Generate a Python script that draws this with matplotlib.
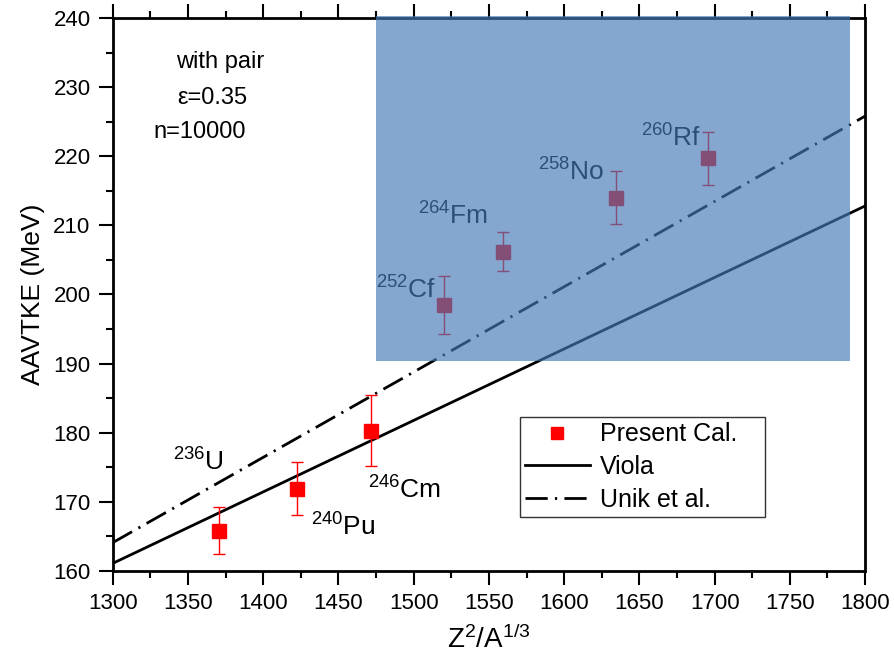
import numpy as np
import matplotlib.pyplot as plt
from matplotlib.patches import Rectangle
from matplotlib.lines import Line2D
from matplotlib.ticker import MultipleLocator

plt.rcParams['font.family'] = ['Liberation Sans', 'DejaVu Sans']
plt.rcParams['mathtext.fontset'] = 'custom'
plt.rcParams['mathtext.rm'] = 'Liberation Sans'
plt.rcParams['mathtext.it'] = 'Liberation Sans'

# data
nuclei = ['236', '240', '246', '252', '264', '258', '260']
elements = ['U', 'Pu', 'Cm', 'Cf', 'Fm', 'No', 'Rf']
z2a = [1370.5, 1422.5, 1471.5, 1520.3, 1559.4, 1634.4, 1695.4]
tke = [165.8, 171.9, 180.3, 198.5, 206.2, 214.0, 219.7]
tke_err = [3.4, 3.8, 5.1, 4.2, 2.8, 3.8, 3.8]

line_x = [1300, 1800]
viola_y = [161.1, 212.8]
unik_y = [164.1, 225.8]

# label anchor (left, centre) for each nucleus
label_x = [1339.9, 1431.6, 1469.5, 1474.9, 1502.8, 1582.6, 1651.1]
label_y = [175.8, 166.4, 171.7, 200.6, 211.4, 217.7, 222.6]

fig = plt.figure(figsize=(8.95, 6.67), dpi=100)
ax = fig.add_axes([0.126, 0.144, 0.8405, 0.829])

dashdot = (0, (8, 2.6, 0.8, 2.6))
ax.plot(line_x, viola_y, color='black', lw=2, zorder=2)
ax.plot(line_x, unik_y, color='black', lw=2, linestyle=dashdot, zorder=2)
ax.errorbar(z2a, tke, yerr=tke_err, fmt='s', color='red', ecolor='red',
            markersize=10, elinewidth=1, capsize=4, capthick=1, zorder=3)

for n, e, x, y in zip(nuclei, elements, label_x, label_y):
    ax.text(x, y, r'$^{%s}$%s' % (n, e), fontsize=19, ha='left', va='center')

ax.text(1342, 232.7, 'with pair', fontsize=17)
ax.text(1343, 227.6, 'ε=0.35', fontsize=17)
ax.text(1327, 222.6, 'n=10000', fontsize=17)

# highlighted region
ax.add_patch(Rectangle((1475, 190.4), 315, 49.9, facecolor='#4479B6',
                       alpha=0.66, edgecolor='none', zorder=10, clip_on=False))

ax.set_xlim(1300, 1800)
ax.set_ylim(160, 240)
ax.xaxis.set_major_locator(MultipleLocator(50))
ax.xaxis.set_minor_locator(MultipleLocator(25))
ax.yaxis.set_major_locator(MultipleLocator(10))
ax.yaxis.set_minor_locator(MultipleLocator(5))
ax.tick_params(which='both', direction='out', width=1.5, top=True, right=False,
               labelsize=16)
ax.tick_params(which='major', length=10, pad=6)
ax.tick_params(which='minor', length=5)
for s in ax.spines.values():
    s.set_linewidth(2)

ax.set_xlabel(r'Z$^2$/A$^{1/3}$', fontsize=20, labelpad=8)
ax.set_ylabel('AAVTKE (MeV)', fontsize=19, labelpad=6)

handles = [Line2D([], [], marker='s', color='red', linestyle='none', markersize=9),
           Line2D([], [], color='black', lw=2),
           Line2D([], [], color='black', lw=2, linestyle=dashdot)]
labels = ['Present Cal.', 'Viola', 'Unik et al.']
leg = ax.legend(handles, labels,
                loc='lower left', bbox_to_anchor=(0.541, 0.098, 0.326, 0.184),
                mode='expand', fontsize=18, frameon=True, fancybox=False,
                edgecolor='black', handlelength=2.6, handletextpad=0.4,
                borderpad=0.2, labelspacing=0.35, borderaxespad=0)
leg.get_frame().set_linewidth(1)

fig.savefig('out.png', dpi=100)
